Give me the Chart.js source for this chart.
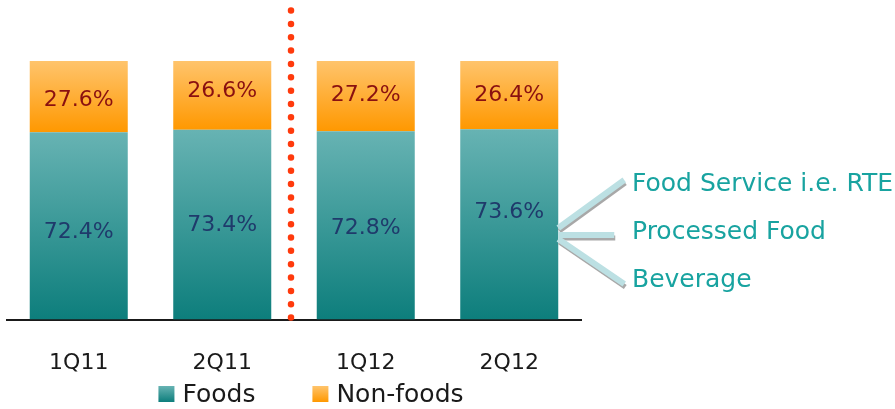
<!DOCTYPE html>
<html>
<head>
<meta charset="utf-8">
<script src="https://cdn.jsdelivr.net/npm/chart.js@4.4.1/dist/chart.umd.min.js"></script>
<style>
  html, body { margin: 0; padding: 0; background: #ffffff; }
  #wrap { width: 895px; height: 409px; position: relative; }
</style>
</head>
<body>
<div id="wrap"><canvas id="c" width="895" height="409"></canvas></div>
<script>
const categories = ['1Q11', '2Q11', '1Q12', '2Q12'];
const foods = [72.4, 73.4, 72.8, 73.6];
const nonFoods = [27.6, 26.6, 27.2, 26.4];
const seriesNames = ['Foods', 'Non-foods'];
const annotationLabels = ['Food Service i.e. RTE', 'Processed Food', 'Beverage'];

const FONT = '"DejaVu Sans", sans-serif';
const GRAD = [['#67B3B3', '#0D7E7C'], ['#FFC46C', '#FF9800']];

function segGradient(ctx, di) {
  const chart = ctx.chart;
  const area = chart.chartArea;
  if (!area) return GRAD[di][1];
  const ys = chart.scales.y;
  const i = ctx.dataIndex;
  if (i === undefined) return GRAD[di][1];
  let y0, y1;
  if (di === 0) {
    y0 = ys.getPixelForValue(foods[i]);
    y1 = ys.getPixelForValue(0);
  } else {
    y0 = ys.getPixelForValue(foods[i] + nonFoods[i]);
    y1 = ys.getPixelForValue(foods[i]);
  }
  const g = chart.ctx.createLinearGradient(0, y0, 0, y1);
  g.addColorStop(0, GRAD[di][0]);
  g.addColorStop(1, GRAD[di][1]);
  return g;
}

const decorations = {
  id: 'decorations',
  afterDatasetsDraw(chart, args, opts) {
    const c = chart.ctx;
    const xs = chart.scales.x;
    const area = chart.chartArea;
    c.save();
    // data labels (hand-placed nudges as in the original slide)
    c.font = '22px ' + FONT;
    c.textAlign = 'center';
    c.textBaseline = 'middle';
    chart.data.datasets.forEach((ds, di) => {
      const meta = chart.getDatasetMeta(di);
      meta.data.forEach((bar, i) => {
        const yc = (bar.y + bar.base) / 2 + opts.nudge[di][i];
        c.fillStyle = di === 0 ? '#1F3A6B' : '#8A1010';
        c.fillText(ds.data[i].toFixed(1) + '%', bar.x, yc);
      });
    });
    // dotted divider between 2Q11 and 1Q12
    const xd = (xs.getPixelForValue(1) + xs.getPixelForValue(2)) / 2 - 3;
    c.strokeStyle = '#FF3A0C';
    c.lineWidth = 6.5;
    c.lineCap = 'round';
    c.setLineDash([0, 13.35]);
    c.beginPath();
    c.moveTo(xd, area.bottom - 2);
    c.lineTo(xd, 8);
    c.stroke();
    c.setLineDash([]);
    // annotation arrows pointing to last bar
    const last = chart.getDatasetMeta(0).data[3];
    const ax = last.x + last.width / 2;
    const ay = 235;
    const ends = [[ax + 66, ay - 55], [ax + 56, ay], [ax + 66, ay + 49]];
    const starts = [[ax, ay - 7], [ax, ay], [ax, ay + 4]];
    c.lineCap = 'butt';
    ends.forEach((e, k) => {
      const s = starts[k];
      c.strokeStyle = '#A8A8A8';
      c.lineWidth = 5;
      c.beginPath();
      c.moveTo(s[0] + 1, s[1] + 3);
      c.lineTo(e[0] + 1, e[1] + 3);
      c.stroke();
      c.strokeStyle = '#BCE0E3';
      c.lineWidth = 6;
      c.beginPath();
      c.moveTo(s[0], s[1]);
      c.lineTo(e[0], e[1]);
      c.stroke();
    });
    // annotation texts
    c.font = '25px ' + FONT;
    c.textAlign = 'left';
    c.textBaseline = 'middle';
    c.fillStyle = '#18A3A0';
    const ty = [184, 232, 280];
    annotationLabels.forEach((t, k) => c.fillText(t, 632, ty[k]));

    // legend
    c.font = '25px ' + FONT;
    const box = 16, gapBoxText = 8, gapItems = 57;
    const widths = seriesNames.map(n => box + gapBoxText + c.measureText(n).width);
    const total = widths.reduce((a, b) => a + b, 0) + gapItems * (seriesNames.length - 1);
    let lx = (area.left + area.right) / 2 + 17 - total / 2;
    const ly = 394;
    seriesNames.forEach((n, k) => {
      const g = c.createLinearGradient(0, ly - box / 2, 0, ly + box / 2);
      g.addColorStop(0, GRAD[k][0]);
      g.addColorStop(1, GRAD[k][1]);
      c.fillStyle = g;
      c.fillRect(lx, ly - box / 2, box, box);
      c.fillStyle = '#1a1a1a';
      c.textAlign = 'left';
      c.fillText(n, lx + box + gapBoxText, ly + 1);
      lx += widths[k] + gapItems;
    });
    c.restore();
  }
};

new Chart(document.getElementById('c'), {
  type: 'bar',
  data: {
    labels: categories,
    datasets: [
      {
        label: seriesNames[0],
        data: foods,
        backgroundColor: (ctx) => segGradient(ctx, 0),
        borderWidth: 0,
        categoryPercentage: 1,
        barPercentage: 0.683
      },
      {
        label: seriesNames[1],
        data: nonFoods,
        backgroundColor: (ctx) => segGradient(ctx, 1),
        borderWidth: 0,
        categoryPercentage: 1,
        barPercentage: 0.683
      }
    ]
  },
  options: {
    responsive: false,
    animation: false,
    layout: { padding: { top: 61, left: 7, right: 314, bottom: 3 } },
    scales: {
      x: {
        stacked: true,
        grid: { display: false, drawTicks: false },
        border: { display: true, color: '#1a1a1a', width: 2 },
        ticks: { color: '#1a1a1a', font: { family: FONT, size: 22 }, padding: 30 }
      },
      y: {
        stacked: true,
        min: 0,
        max: 100,
        display: false
      }
    },
    plugins: {
      legend: { display: false },
      tooltip: { enabled: false },
      decorations: { nudge: [[6, 1, 3, -12], [4, -4, -1, 0.5]] }
    }
  },
  plugins: [decorations]
});
</script>
</body>
</html>
